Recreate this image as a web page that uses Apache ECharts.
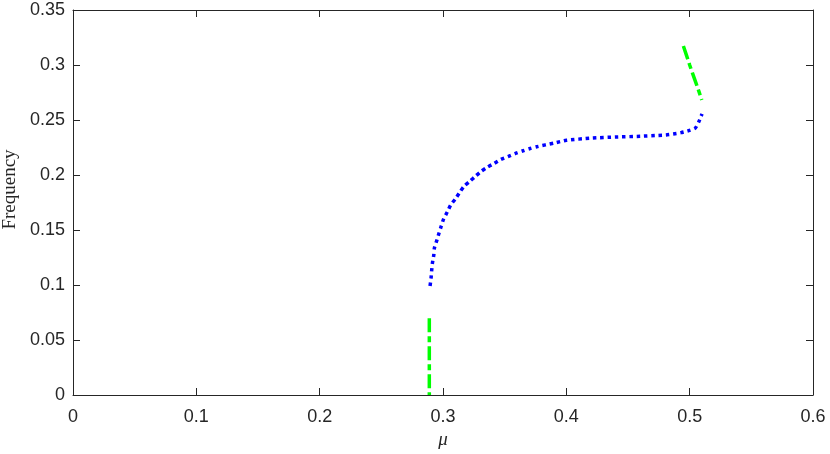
<!DOCTYPE html>
<html>
<head>
<meta charset="utf-8">
<script src="https://cdn.jsdelivr.net/npm/echarts@6/dist/echarts.min.js"></script>
<style>html,body{margin:0;padding:0;background:#fff;}#c{width:830px;height:454px;}</style>
</head>
<body>
<div id="c"></div>
<script>
// x ticks / y ticks
const xTicks = [0, 0.1, 0.2, 0.3, 0.4, 0.5, 0.6];
const yTicks = [0, 0.05, 0.1, 0.15, 0.2, 0.25, 0.3, 0.35];

// blue dotted branch
const blueMu = [0.2895,0.2903,0.2908,0.2914,0.2925,0.2930,0.2949,0.2968,0.2986,0.3006,0.3035,0.3062,0.3100,0.3132,0.3170,0.3217,0.3265,0.3309,0.3362,0.3416,0.3470,0.3527,0.3584,0.3643,0.3700,0.3760,0.3900,0.4000,0.4200,0.4400,0.4600,0.4746,0.4808,0.4867,0.4930,0.4992,0.5046,0.5076,0.5100];
const blueFreq = [0.0991,0.1061,0.1130,0.1197,0.1270,0.1334,0.1403,0.1473,0.1536,0.1603,0.1664,0.1727,0.1782,0.1836,0.1897,0.1942,0.1991,0.2033,0.2073,0.2106,0.2142,0.2167,0.2194,0.2218,0.2239,0.2257,0.2290,0.2315,0.2335,0.2345,0.2352,0.2360,0.2364,0.2373,0.2385,0.2403,0.2427,0.2488,0.2555];

// green dash-dot branch (upper)
const greenUpMu = [0.4949,0.4975,0.5000,0.5025,0.5050,0.5075,0.5098];
const greenUpFreq = [0.3173,0.3085,0.3000,0.2920,0.2840,0.2760,0.2682];

// green dash-dot branch (lower)
const greenLowMu = [0.2889,0.2889];
const greenLowFreq = [0.0697,0];

function pairs(a, b) { return a.map((v, i) => [v, b[i]]); }

const axisColor = '#262626';
const labelFont = 'Liberation Sans';
const chart = echarts.init(document.getElementById('c'), null, {renderer: 'canvas'});

const baseX = {
  type: 'value', min: xTicks[0], max: xTicks[xTicks.length - 1], interval: 0.1,
  axisLine: {show: true, onZero: false, lineStyle: {color: axisColor, width: 1}},
  axisTick: {show: true, inside: true, length: 7, lineStyle: {color: axisColor, width: 1}},
  splitLine: {show: false}
};
const baseY = {
  type: 'value', min: yTicks[0], max: yTicks[yTicks.length - 1], interval: 0.05,
  axisLine: {show: true, onZero: false, lineStyle: {color: axisColor, width: 1}},
  axisTick: {show: true, inside: true, length: 7, lineStyle: {color: axisColor, width: 1}},
  splitLine: {show: false}
};

chart.setOption({
  backgroundColor: '#ffffff',
  animation: false,
  grid: {left: 73, right: 17, top: 10, bottom: 59, containLabel: false, outerBoundsMode: 'none'},
  xAxis: [
    Object.assign({}, baseX, {
      position: 'bottom',
      name: 'μ', nameLocation: 'middle', nameGap: 20,
      nameTextStyle: {fontFamily: 'Liberation Serif', fontStyle: 'italic', fontSize: 19, color: axisColor},
      axisLabel: {show: true, margin: 13, fontFamily: labelFont, fontSize: 18, color: axisColor,
        formatter: v => String(+v.toFixed(2))}
    }),
    Object.assign({}, baseX, {position: 'top', axisLabel: {show: false}})
  ],
  yAxis: [
    Object.assign({}, baseY, {
      position: 'left',
      name: 'Frequency', nameLocation: 'middle', nameGap: 47,
      nameTextStyle: {fontFamily: 'Liberation Serif', fontSize: 19, color: axisColor, padding: [0, 0, 0, 26]},
      axisLabel: {show: true, margin: 8, fontFamily: labelFont, fontSize: 18, color: axisColor,
        formatter: v => String(+v.toFixed(2))}
    }),
    Object.assign({}, baseY, {position: 'right', axisLabel: {show: false}})
  ],
  series: [
    {
      type: 'line', data: pairs(greenLowMu, greenLowFreq), showSymbol: false, symbol: 'none',
      lineStyle: {color: '#00ff00', width: 3.5, type: [14, 4, 6, 4], cap: 'butt'}
    },
    {
      type: 'line', data: pairs(blueMu, blueFreq), showSymbol: false, symbol: 'none', smooth: 0.2,
      lineStyle: {color: '#0000ff', width: 3.5, type: [3.5, 3.8], cap: 'butt'}
    },
    {
      type: 'line', data: pairs(greenUpMu, greenUpFreq), showSymbol: false, symbol: 'none',
      lineStyle: {color: '#00ff00', width: 3.5, type: [14, 4, 6, 4], cap: 'butt'}
    }
  ]
});
</script>
</body>
</html>
